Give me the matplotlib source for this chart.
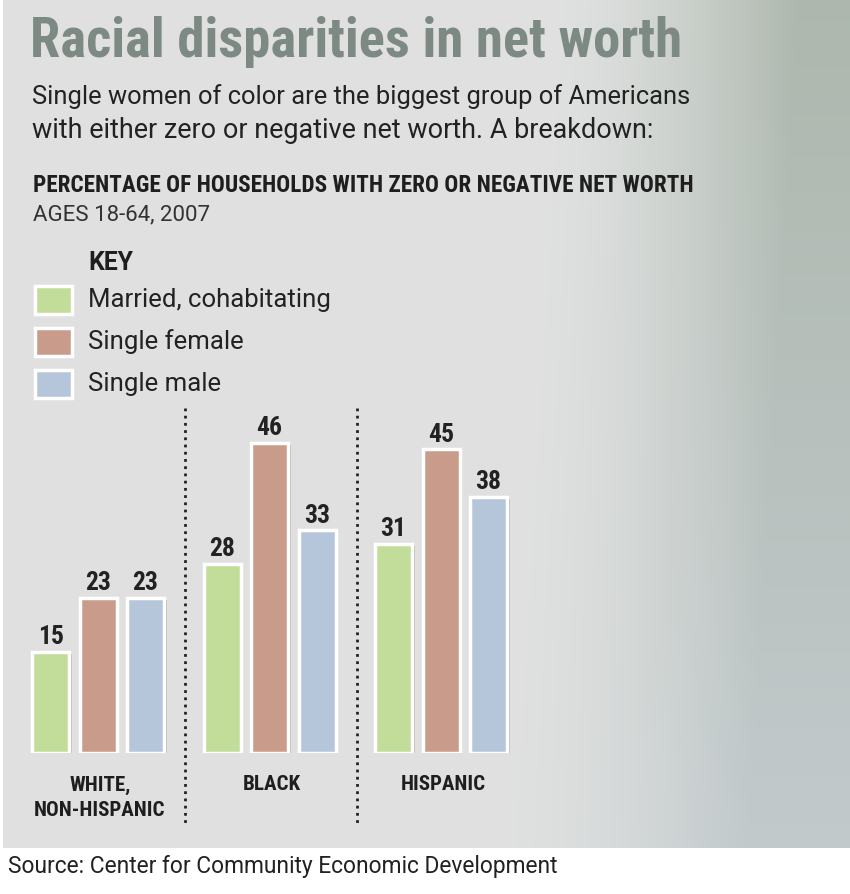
import numpy as np
import matplotlib
matplotlib.use("Agg")
import matplotlib.pyplot as plt
from matplotlib import font_manager
from matplotlib.patches import Rectangle
import matplotlib.patheffects as pe

# ---------------- data ----------------
groups = ["WHITE,\nNON-HISPANIC", "BLACK", "HISPANIC"]
series = ["Married, cohabitating", "Single female", "Single male"]
married = [15, 28, 31]
single_female = [23, 46, 45]
single_male = [23, 33, 38]
colors = ["#c2dc9a", "#c99b8b", "#b6c6da"]

title = "Racial disparities in net worth"
subtitle = ["Single women of color are the biggest group of Americans",
            "with either zero or negative net worth. A breakdown:"]
chart_title = "PERCENTAGE OF HOUSEHOLDS WITH ZERO OR NEGATIVE NET WORTH"
chart_sub = "AGES 18-64, 2007"
source = "Source: Center for Community Economic Development"

# ---------------- fonts ----------------
def pick(names):
    for n in names:
        try:
            font_manager.findfont(font_manager.FontProperties(family=n), fallback_to_default=False)
            return n
        except Exception:
            pass
    return "DejaVu Sans"

COND = pick(["Roboto Condensed", "Liberation Sans Narrow", "DejaVu Sans Condensed", "Liberation Sans"])
REG = pick(["Roboto", "Liberation Sans", "DejaVu Sans"])
plt.rcParams["font.family"] = [COND, "DejaVu Sans"]

W, H = 850, 894
fig = plt.figure(figsize=(W / 100, H / 100), dpi=100)
fig.patch.set_facecolor("white")
renderer = fig.canvas.get_renderer()

bg = fig.add_axes([0, 0, 1, 1])
bg.set_xlim(0, W)
bg.set_ylim(H, 0)
bg.axis("off")


def fit_text(x, y, s, width, family, weight="normal", **kw):
    t = bg.text(x, y, s, fontsize=20, family=[family, "DejaVu Sans"], fontweight=weight, **kw)
    w = t.get_window_extent(renderer=renderer).width
    t.set_fontsize(20 * width / w)
    return t


# panel gradient
nx, ny = 400, 200
xx = np.linspace(0, 1, nx)
yy = np.linspace(0, 1, ny)
X, Y = np.meshgrid(xx, yy)
left = np.array([0.875, 0.882, 0.878])
right_top = np.array([0.68, 0.72, 0.68])
right_bot = np.array([0.76, 0.79, 0.80])
start = 0.66 - 0.06 * Y
t = np.clip((X - start) / 0.28, 0, 1) ** 1.4
rc = right_top[None, None, :] * (1 - Y[..., None]) + right_bot[None, None, :] * Y[..., None]
img = left[None, None, :] * (1 - t[..., None]) + rc * t[..., None]
bg.imshow(img, extent=[3, W, 848, 0], aspect="auto", zorder=0, interpolation="bilinear")

# texts
fit_text(30, 42, title, 650, COND, "bold", color="#7d8a83", va="center", ha="left")
fit_text(32, 97, subtitle[0], 658, REG, color="#222222", va="center", ha="left")
fit_text(32, 131, subtitle[1], 619, REG, color="#222222", va="center", ha="left")
fit_text(33, 185, chart_title, 657, COND, "bold", color="#1e1e1e", va="center", ha="left")
fit_text(33, 215, chart_sub, 177, REG, color="#333333", va="center", ha="left")
fit_text(88, 263, "KEY", 45, REG, "bold", color="#1e1e1e", va="center", ha="left")

for i, (lab, c) in enumerate(zip(series, colors)):
    yc = 300 + i * 42
    bg.add_patch(Rectangle((35, yc - 14), 37, 28, facecolor=c, edgecolor="white", lw=2.5, zorder=3,
                           path_effects=[pe.SimplePatchShadow(offset=(1.5, -1.5), alpha=0.25), pe.Normal()]))
    if i == 0:
        tt = fit_text(88, yc, lab, 242, REG, color="#222222", va="center", ha="left")
        leg_fs = tt.get_fontsize()
    else:
        bg.text(88, yc, lab, fontsize=leg_fs, family=[REG, "DejaVu Sans"], color="#222222",
                va="center", ha="left")

fit_text(8, 866, source, 550, REG, color="#222222", va="center", ha="left")

# ---------------- bar chart ----------------
ax_left, ax_right = 0, 560
ax_bottom_px, ax_top_px = 753, 400
px_per_unit = 6.75
ax = fig.add_axes([ax_left / W, (H - ax_bottom_px) / H, (ax_right - ax_left) / W,
                   (ax_bottom_px - ax_top_px) / H])
ax.set_xlim(ax_left, ax_right)
ax.set_ylim(0, (ax_bottom_px - ax_top_px) / px_per_unit)
ax.axis("off")
ax.patch.set_alpha(0)

probe = bg.text(0, 0, "46", fontsize=20, fontweight="bold")
val_fs = 20 * 26 / probe.get_window_extent(renderer=renderer).width
probe.remove()
probe = bg.text(0, 0, "HISPANIC", fontsize=20, fontweight="bold")
grp_fs = 20 * 85 / probe.get_window_extent(renderer=renderer).width
probe.remove()

group_centers = 98 + np.arange(len(groups)) * 171.5
offsets = np.array([-1, 0, 1]) * 47.5
bar_w = 37
values = [married, single_female, single_male]
for s, (vals, c) in enumerate(zip(values, colors)):
    xs = group_centers + offsets[s]
    bars = ax.bar(xs, vals, width=bar_w, color=c, edgecolor="white", linewidth=2.5, zorder=3)
    for b in bars:
        b.set_path_effects([pe.SimplePatchShadow(offset=(2, -1.5), alpha=0.25), pe.Normal()])
    for x, v in zip(xs, vals):
        ax.text(x, v + 0.4, f"{v}", ha="center", va="bottom", fontsize=val_fs,
                fontweight="bold", color="#222222", zorder=4)

for gc, g in zip(group_centers, groups):
    lines = g.split("\n")
    for j, ln in enumerate(lines):
        bg.text(gc + 2, 785 + j * 25, ln, ha="center", va="center", fontsize=grp_fs,
                fontweight="bold", color="#1e1e1e")
for k in range(len(groups) - 1):
    xsep = (group_centers[k] + group_centers[k + 1]) / 2 + 1.5
    bg.plot([xsep, xsep], [408, 825], color="#222222", lw=2, ls=(0, (1, 1.6)), zorder=2)

fig.savefig("out.png", dpi=100)
